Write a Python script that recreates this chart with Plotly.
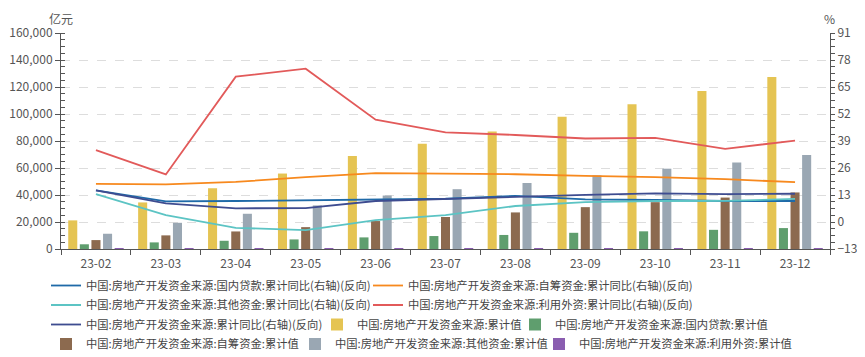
import plotly.graph_objects as go

categories = ["23-02", "23-03", "23-04", "23-05", "23-06", "23-07", "23-08", "23-09", "23-10", "23-11", "23-12"]

# right axis (%), reversed sign series
yoy_loans = [15.2, 9.9, 10.1, 10.4, 11.0, 11.2, 12.6, 10.9, 10.6, 10.1, 10.1]
yoy_self = [18.4, 18.1, 19.3, 21.6, 23.5, 23.3, 23.0, 22.2, 21.6, 20.6, 19.2]
yoy_other = [13.4, 3.3, -2.8, -3.9, 0.9, 3.3, 7.7, 9.6, 10.1, 10.2, 11.1]
yoy_foreign = [34.6, 22.9, 70.0, 73.8, 49.3, 43.2, 41.9, 40.2, 40.5, 35.2, 39.2]
yoy_total = [15.2, 9.0, 6.6, 6.7, 10.1, 11.2, 12.1, 13.1, 13.8, 13.4, 13.6]

# left axis (亿元)
val_total = [21200, 34500, 45000, 55900, 68900, 78000, 87100, 97900, 107200, 117100, 127400]
val_loans = [3500, 4900, 6100, 7100, 8600, 9600, 10400, 12000, 13100, 14200, 15500]
val_self = [6600, 10100, 13000, 16200, 20700, 23700, 27100, 31000, 34700, 38100, 41900]
val_other = [11300, 19400, 26100, 32300, 39600, 44300, 48900, 54600, 59500, 64000, 69600]
val_foreign = [11, 18, 20, 22, 27, 31, 33, 37, 42, 44, 47]

left_ticks = [0, 20000, 40000, 60000, 80000, 100000, 120000, 140000, 160000]
right_ticks = [-13, 0, 13, 26, 39, 52, 65, 78, 91]

FONT = "Noto Sans CJK SC"
P = "中国:房地产开发资金来源:"

# the page places the figure 8px in from the top-left corner
OFF = 8
W, H = 865 - OFF, 357 - OFF
# plot-area geometry in page px
PL, PR, PT, PB = 61, 830, 33, 249


def px_to_paper_x(px):
    return (px - PL) / (PR - PL)


def px_to_paper_y(py):
    return (PB - py) / (PB - PT)


# legend text start (page px) and row centre (page px)
row_y = [285.5, 305.0, 324.5, 344.0]
legend_pos = [
    (89, 0), (411, 0),
    (89, 1), (411, 1),
    (89, 2), (360, 2), (558, 2),
    (89, 3), (338, 3), (582, 3),
]

fig = go.Figure()

lines = [
    (P + "国内贷款:累计同比(右轴)(反向)", yoy_loans, "#1f6aa8"),
    (P + "自筹资金:累计同比(右轴)(反向)", yoy_self, "#f7891e"),
    (P + "其他资金:累计同比(右轴)(反向)", yoy_other, "#5cc4c4"),
    (P + "利用外资:累计同比(右轴)(反向)", yoy_foreign, "#e25a5a"),
    (P + "累计同比(右轴)(反向)", yoy_total, "#3e4c90"),
]
bars = [
    (P + "累计值", val_total, "#e5c453"),
    (P + "国内贷款:累计值", val_loans, "#5f9e6e"),
    (P + "自筹资金:累计值", val_self, "#8c6a4f"),
    (P + "其他资金:累计值", val_other, "#9aa7b3"),
    (P + "利用外资:累计值", val_foreign, "#8a5db0"),
]

legend_ids = ["legend"] + ["legend%d" % i for i in range(2, 11)]

k = 0
for name, ys, col in lines:
    fig.add_trace(go.Scatter(x=categories, y=ys, name=name, mode="lines",
                             line=dict(color=col, width=1.8), yaxis="y2",
                             legend=legend_ids[k]))
    k += 1
for name, ys, col in bars:
    fig.add_trace(go.Bar(x=categories, y=ys, name=name,
                         marker=dict(color=col, line=dict(width=0)),
                         yaxis="y", legend=legend_ids[k]))
    k += 1

axis_color = "#555555"
tick_font = dict(size=12, color="#555555")
layout = dict(
    width=W, height=H,
    margin=dict(l=PL - OFF, r=(W + OFF) - PR, t=PT - OFF, b=(H + OFF) - PB, autoexpand=False),
    paper_bgcolor="white", plot_bgcolor="white",
    font=dict(family=FONT, size=12, color="#444444"),
    barmode="group", bargap=0.17, bargroupgap=0.22,
    showlegend=True,
    xaxis=dict(type="category", tickson="boundaries", ticks="outside", ticklen=5,
               tickcolor=axis_color, showline=True, linecolor=axis_color, linewidth=1,
               showgrid=False, tickfont=tick_font, automargin=False, ticklabelstandoff=4),
    yaxis=dict(range=[0, 160000], tickvals=left_ticks, tickformat=",d",
               showline=True, linecolor=axis_color, linewidth=1,
               ticks="outside", ticklen=5, tickcolor=axis_color,
               minor=dict(dtick=5000, ticks="inside", ticklen=4, tickcolor=axis_color, showgrid=False),
               showgrid=True, gridcolor="#dddddd", griddash="dash", gridwidth=1,
               zeroline=False, tickfont=tick_font, automargin=False),
    yaxis2=dict(range=[-13, 91], tickvals=right_ticks, overlaying="y", side="right",
                showline=True, linecolor=axis_color, linewidth=1,
                ticks="outside", ticklen=4, tickcolor=axis_color,
                minor=dict(dtick=3.25, ticks="outside", ticklen=4, tickcolor=axis_color, showgrid=False),
                showgrid=False, zeroline=False, tickfont=tick_font, automargin=False),
    annotations=[
        dict(text="亿元", xref="paper", yref="paper", x=px_to_paper_x(61), y=px_to_paper_y(OFF),
             xanchor="center", yanchor="top", showarrow=False,
             font=dict(size=12, color="#555555")),
        dict(text="%", xref="paper", yref="paper", x=px_to_paper_x(829), y=px_to_paper_y(OFF),
             xanchor="center", yanchor="top", showarrow=False,
             font=dict(size=12, color="#555555")),
    ],
)
for lid, (tx, r) in zip(legend_ids, legend_pos):
    layout[lid] = dict(orientation="h", x=px_to_paper_x(tx - 43), xanchor="left",
                       y=px_to_paper_y(row_y[r]), yanchor="middle",
                       font=dict(size=11.3, color="#444444"), bgcolor="rgba(0,0,0,0)",
                       borderwidth=0)

fig.update_layout(**layout)
fig.write_html("out.html")
